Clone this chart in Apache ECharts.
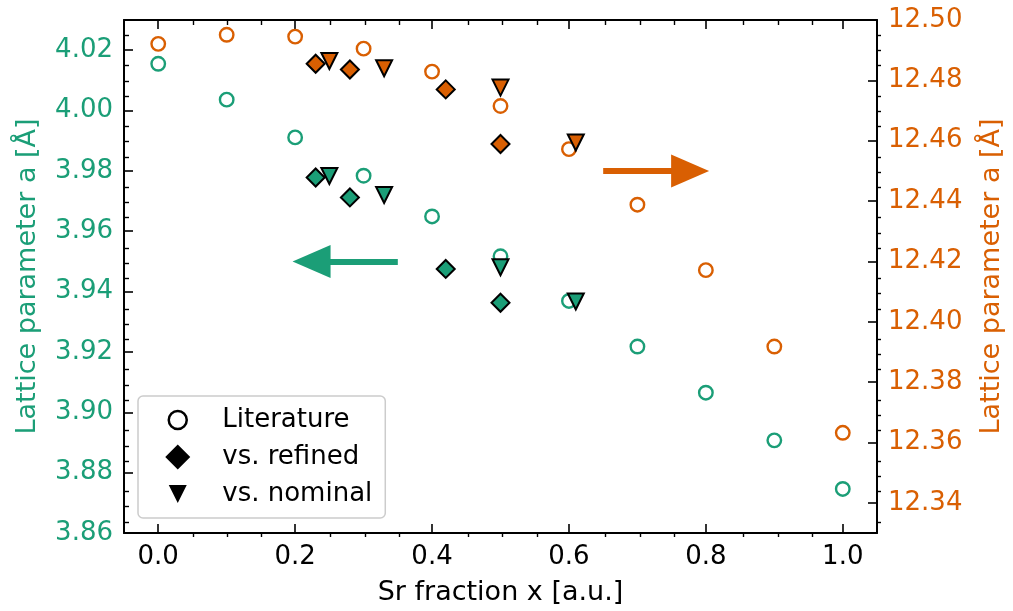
<!DOCTYPE html>
<html>
<head>
<meta charset="utf-8">
<script src="https://cdn.jsdelivr.net/npm/echarts@6/dist/echarts.min.js"></script>
<style>
html, body { margin: 0; padding: 0; background: #fff; }
#chart { width: 1013px; height: 611px; }
</style>
</head>
<body>
<div id="chart"></div>
<script>
// literature values, both lattice constants
var litX = [0.0, 0.1, 0.2, 0.3, 0.4, 0.5, 0.6, 0.7, 0.8, 0.9, 1.0];
var litA = [4.0155, 4.0036, 3.9911, 3.9784, 3.9649, 3.9517, 3.9369, 3.9218, 3.9065, 3.8907, 3.8746];
var litC = [12.4921, 12.4951, 12.4945, 12.4905, 12.4829, 12.4715, 12.4572, 12.4388, 12.4171, 12.3918, 12.3632];

// vs. refined composition
var refX = [0.23, 0.28, 0.42, 0.5];
var refA = [3.9778, 3.9712, 3.9475, 3.9363];
var refC = [12.4855, 12.4836, 12.477, 12.4589];

// vs. nominal composition
var nomX = [0.25, 0.33, 0.5, 0.61];
var nomA = [3.9783, 3.972, 3.9481, 3.9367];
var nomC = [12.4864, 12.484, 12.4776, 12.4594];

// arrows (start, head centre) in data units
var arrowA = [[0.35, 3.95], [0.224, 3.95]];
var arrowC = [[0.65, 12.45], [0.777, 12.45]];

var xTicks = [0.0, 0.2, 0.4, 0.6, 0.8, 1.0];
var aTicks = [3.86, 3.88, 3.90, 3.92, 3.94, 3.96, 3.98, 4.00, 4.02];
var cTicks = [12.34, 12.36, 12.38, 12.40, 12.42, 12.44, 12.46, 12.48, 12.50];

var green = '#1b9e77';
var orange = '#d95f02';
var font = 'DejaVu Sans';

function minors(lo, hi, step, majors) {
    var out = [];
    var n = Math.round((hi - lo) / step);
    for (var i = 0; i <= n; i++) {
        var v = +(lo + i * step).toFixed(4);
        var isMajor = majors.some(function (m) { return Math.abs(m - v) < 1e-6; });
        if (!isMajor) out.push(v);
    }
    return out;
}

function zip(xs, ys) {
    return xs.map(function (x, i) { return [x, ys[i]]; });
}

var triDown = 'path://M0,0L10,0L5,10Z';
var arrowHead = 'path://M5,0L10,10L0,10Z';
// legend icons padded to a 25 box so they keep their relative sizes
var legCircle = 'path://M-3.5,-3.5M0,9A9,9,0,1,1,18,9A9,9,0,1,1,0,9ZM21.5,21.5';
var legDiamond = 'path://M12.5,0L25,12.5L12.5,25L0,12.5Z';
var legTri = 'path://M-3.5,-3.5M0,0L18,0L9,18ZM21.5,21.5';

function majorAxis(pos, min, max, ticks, lab) {
    return {
        type: 'value', gridIndex: 0, position: pos, min: min, max: max,
        splitLine: { show: false },
        axisLine: { show: true, onZero: false, lineStyle: { color: '#000', width: 2 } },
        axisTick: { show: true, inside: true, length: 9, lineStyle: { color: '#000', width: 1.6 }, customValues: ticks },
        axisLabel: lab ? Object.assign({ customValues: ticks, fontFamily: font, fontSize: 26, margin: 11 }, lab) : { show: false }
    };
}

// minor ticks live on a second, identical grid so positions are not swapped
function minorAxis(pos, min, max, ticks) {
    return {
        type: 'value', gridIndex: 1, position: pos, min: min, max: max,
        splitLine: { show: false },
        axisLine: { show: false, onZero: false },
        axisTick: { show: true, inside: true, length: 5, lineStyle: { color: '#000', width: 1.4 }, customValues: ticks },
        axisLabel: { show: false }
    };
}

var xMin = -0.05, xMax = 1.05;
var aMin = 3.86, aMax = 4.03;
var cMin = 12.33, cMax = 12.50;

var xAxes = [
    majorAxis('bottom', xMin, xMax, xTicks, { color: '#000', formatter: function (v) { return v.toFixed(1); } }),
    majorAxis('top', xMin, xMax, xTicks, null),
    minorAxis('bottom', xMin, xMax, minors(0.05, 1.0, 0.05, xTicks)),
    minorAxis('top', xMin, xMax, minors(0.05, 1.0, 0.05, xTicks))
];
Object.assign(xAxes[0], {
    name: 'Sr fraction x [a.u.]', nameLocation: 'middle', nameGap: 46,
    nameTextStyle: { fontFamily: font, fontSize: 27, color: '#000' }
});

var yAxes = [
    majorAxis('left', aMin, aMax, aTicks, { color: green, formatter: function (v) { return v.toFixed(2); } }),
    majorAxis('right', cMin, cMax, cTicks, { color: orange, formatter: function (v) { return v.toFixed(2); } }),
    minorAxis('left', aMin, aMax, minors(3.865, 4.025, 0.005, aTicks)),
    minorAxis('right', cMin, cMax, minors(12.335, 12.495, 0.005, cTicks))
];
Object.assign(yAxes[0], {
    name: 'Lattice parameter a [Å]', nameLocation: 'middle', nameGap: 83, nameRotate: 90,
    nameTextStyle: { fontFamily: font, fontSize: 27, color: green }
});
Object.assign(yAxes[1], {
    name: 'Lattice parameter a [Å]', nameLocation: 'middle', nameGap: 101, nameRotate: 90,
    nameTextStyle: { fontFamily: font, fontSize: 27, color: orange }
});

function arrowLine(pts, color) {
    return {
        silent: true, animation: false,
        symbol: ['none', arrowHead],
        label: { show: false },
        emphasis: { disabled: true },
        lineStyle: { color: color, width: 6, type: 'solid', opacity: 1 },
        data: [[{ coord: pts[0], symbol: 'none' }, { coord: pts[1], symbol: arrowHead, symbolSize: [33, 38] }]]
    };
}

function circles(name, data, yi, color, extra) {
    return Object.assign({
        name: name, type: 'scatter', xAxisIndex: 0, yAxisIndex: yi, data: data,
        symbol: 'circle', symbolSize: 13.5,
        itemStyle: { color: 'rgba(0,0,0,0)', borderColor: color, borderWidth: 2.4, opacity: 1 }
    }, extra || {});
}

function filled(name, data, yi, color, symbol, size) {
    return {
        name: name, type: 'scatter', xAxisIndex: 0, yAxisIndex: yi, data: data,
        symbol: symbol, symbolSize: size,
        itemStyle: { color: color, borderColor: '#000', borderWidth: 2, opacity: 1 }
    };
}

var gridBox = { left: 124, right: 132, top: 20, bottom: 74, containLabel: false };

var chart = echarts.init(document.getElementById('chart'));
chart.setOption({
    animation: false,
    backgroundColor: '#fff',
    textStyle: { fontFamily: font },
    grid: [Object.assign({}, gridBox), Object.assign({}, gridBox)],
    xAxis: xAxes,
    yAxis: yAxes,
    legend: {
        orient: 'vertical', left: 138, top: 396,
        data: [
            { name: 'Literature', icon: legCircle, itemStyle: { color: '#fff', borderColor: '#000', borderWidth: 2.5, opacity: 1 } },
            { name: 'vs. refined', icon: legDiamond, itemStyle: { color: '#000', borderWidth: 0, opacity: 1 } },
            { name: 'vs. nominal', icon: legTri, itemStyle: { color: '#000', borderWidth: 0, opacity: 1 } }
        ],
        itemWidth: 25, itemHeight: 25, itemGap: 7,
        padding: [9, 13, 9, 26],
        textStyle: { fontFamily: font, fontSize: 26, color: '#000', lineHeight: 30, padding: [0, 0, 0, 27] },
        backgroundColor: '#fff', borderColor: '#cccccc', borderWidth: 1.5, borderRadius: 5,
        selectedMode: false
    },
    series: [
        circles('litA', zip(litX, litA), 0, green, { markLine: arrowLine(arrowA, green) }),
        circles('litC', zip(litX, litC), 1, orange, { markLine: arrowLine(arrowC, orange) }),
        filled('refA', zip(refX, refA), 0, green, 'diamond', 18),
        filled('refC', zip(refX, refC), 1, orange, 'diamond', 18),
        filled('nomA', zip(nomX, nomA), 0, green, triDown, 16),
        filled('nomC', zip(nomX, nomC), 1, orange, triDown, 16),
        { name: 'Literature', type: 'scatter', data: [], symbol: 'circle',
          itemStyle: { color: '#fff', borderColor: '#000', borderWidth: 2.5 } },
        { name: 'vs. refined', type: 'scatter', data: [], symbol: 'diamond', itemStyle: { color: '#000' } },
        { name: 'vs. nominal', type: 'scatter', data: [], symbol: triDown, itemStyle: { color: '#000' } }
    ]
});
</script>
</body>
</html>
